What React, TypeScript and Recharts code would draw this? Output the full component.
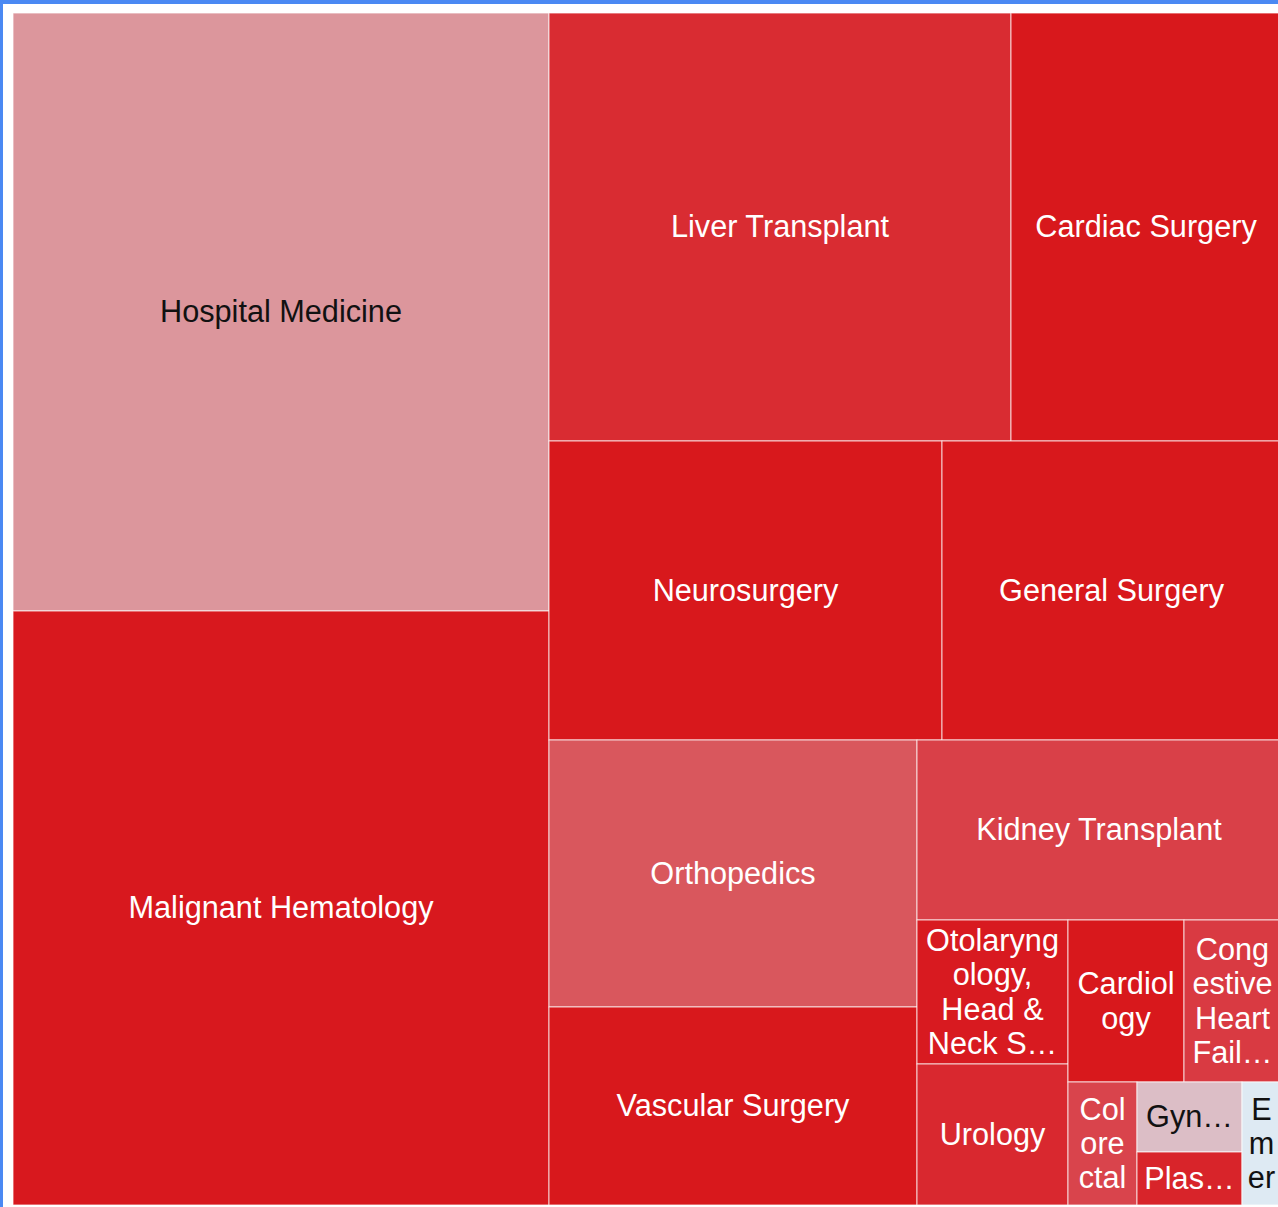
import React from 'react';
import { Treemap } from 'recharts';

// Specialties in the order the treemap lays them out
const specialties = [
  'Hospital Medicine',
  'Malignant Hematology',
  'Liver Transplant',
  'Cardiac Surgery',
  'Neurosurgery',
  'General Surgery',
  'Orthopedics',
  'Vascular Surgery',
  'Kidney Transplant',
  'Otolaryngology, Head & Neck Surgery',
  'Urology',
  'Cardiology',
  'Congestive Heart Failure',
  'Colorectal',
  'Gynecology',
  'Plastic Surgery',
  'Emergency Medicine',
];

// Size value of each specialty (area)
const sizes = [
  3205, 3184, 1976, 1154, 1174, 1018, 984, 727, 655, 217, 212, 188, 157, 85, 73, 56, 51,
];

// Cell colours
const cellColors = [
  '#dc969c', '#d8181e', '#d92c32', '#d8181c', '#d8181c', '#d8181c', '#d9575d', '#d8181c',
  '#d94048', '#d81a20', '#d9282f', '#d8181c', '#d93a42', '#d9444c', '#dcbec6', '#d8242a',
  '#deeaf3',
];

const data = specialties.map((name, i) => ({ name, size: sizes[i] }));

const FONT = '"Liberation Sans", Arial, sans-serif';
const FS = 30.67;
const LH = 34.33;
const PADX = 5.5;
const PADY = 2;

let ctx: CanvasRenderingContext2D | null = null;
function measure(s: string): number {
  if (!ctx) {
    ctx = document.createElement('canvas').getContext('2d');
  }
  if (!ctx) return s.length * FS * 0.55;
  ctx.font = `${FS}px ${FONT}`;
  return ctx.measureText(s).width;
}

function charFit(text: string, maxW: number): number {
  let k = 1;
  while (k < text.length && measure(text.slice(0, k + 1)) <= maxW) k++;
  return k;
}

function wrap(text: string, maxW: number, maxLines: number): string[] {
  const lines: string[] = [];
  const n = text.length;
  let pos = 0;
  if (maxLines < 1) return lines;
  while (pos < n) {
    while (pos < n && text[pos] === ' ') pos++;
    if (pos >= n) break;
    if (lines.length === maxLines - 1) {
      const rest = text.slice(pos);
      if (measure(rest) <= maxW) {
        lines.push(rest);
        break;
      }
      let t = rest;
      while (t.length > 1 && measure(t.trimEnd() + '…') > maxW) t = t.slice(0, -1);
      if (measure(t.trimEnd() + '…') <= maxW) {
        lines.push(t.trimEnd() + '…');
      } else {
        lines.push(rest.slice(0, charFit(rest, maxW)));
      }
      break;
    }
    let lineEnd = -1;
    let j = pos;
    while (true) {
      let k = text.indexOf(' ', j);
      if (k === -1) k = n;
      if (measure(text.slice(pos, k)) <= maxW) {
        lineEnd = k;
        j = k + 1;
        if (k >= n) break;
      } else break;
    }
    if (lineEnd === -1) {
      let k = pos + 1;
      while (k < n && text[k] !== ' ' && measure(text.slice(pos, k + 1)) <= maxW) k++;
      lineEnd = k;
    }
    lines.push(text.slice(pos, lineEnd));
    pos = lineEnd;
  }
  return lines;
}

function textColorFor(hex: string): string {
  const r = parseInt(hex.slice(1, 3), 16);
  const g = parseInt(hex.slice(3, 5), 16);
  const b = parseInt(hex.slice(5, 7), 16);
  const br = 0.299 * r + 0.587 * g + 0.114 * b;
  return br > 150 ? '#111111' : '#ffffff';
}

function Cell(props: any) {
  const { x, y, width, height, depth, name } = props;
  if (depth !== 1 || !name) return null;
  const idx = specialties.indexOf(name);
  const fill = cellColors[idx] || '#d8181c';
  const maxLines = Math.floor((height - 2 * PADY) / LH);
  const lines = wrap(name, width - 2 * PADX, maxLines);
  const cx = x + width / 2;
  const cy = y + height / 2;
  const first = cy - ((lines.length - 1) / 2) * LH + 0.34 * FS;
  return (
    <g>
      <rect
        x={x}
        y={y}
        width={width}
        height={height}
        fill={fill}
        stroke="#ffffff"
        strokeOpacity={0.75}
        strokeWidth={1}
      />
      <text
        x={cx}
        textAnchor="middle"
        fontFamily={FONT}
        fontSize={FS}
        fill={textColorFor(fill)}
      >
        {lines.map((ln, i) => (
          <tspan key={i} x={cx} y={first + i * LH}>
            {ln}
          </tspan>
        ))}
      </text>
    </g>
  );
}

export default function App() {
  return (
    <div
      style={{
        position: 'absolute',
        left: 0,
        top: 0,
        width: 1278,
        height: 1207,
        overflow: 'hidden',
        background: '#ffffff',
      }}
    >
      <div style={{ position: 'absolute', left: 0, top: 0, width: 1278, height: 4, background: '#4a89f3' }} />
      <div style={{ position: 'absolute', left: 0, top: 0, width: 3, height: 1207, background: '#4a89f3' }} />
      <div style={{ position: 'absolute', left: 13, top: 13 }}>
        <Treemap
          width={1268}
          height={1192}
          data={data}
          dataKey="size"
          nameKey="name"
          aspectRatio={1}
          isAnimationActive={false}
          content={<Cell />}
        />
      </div>
    </div>
  );
}
